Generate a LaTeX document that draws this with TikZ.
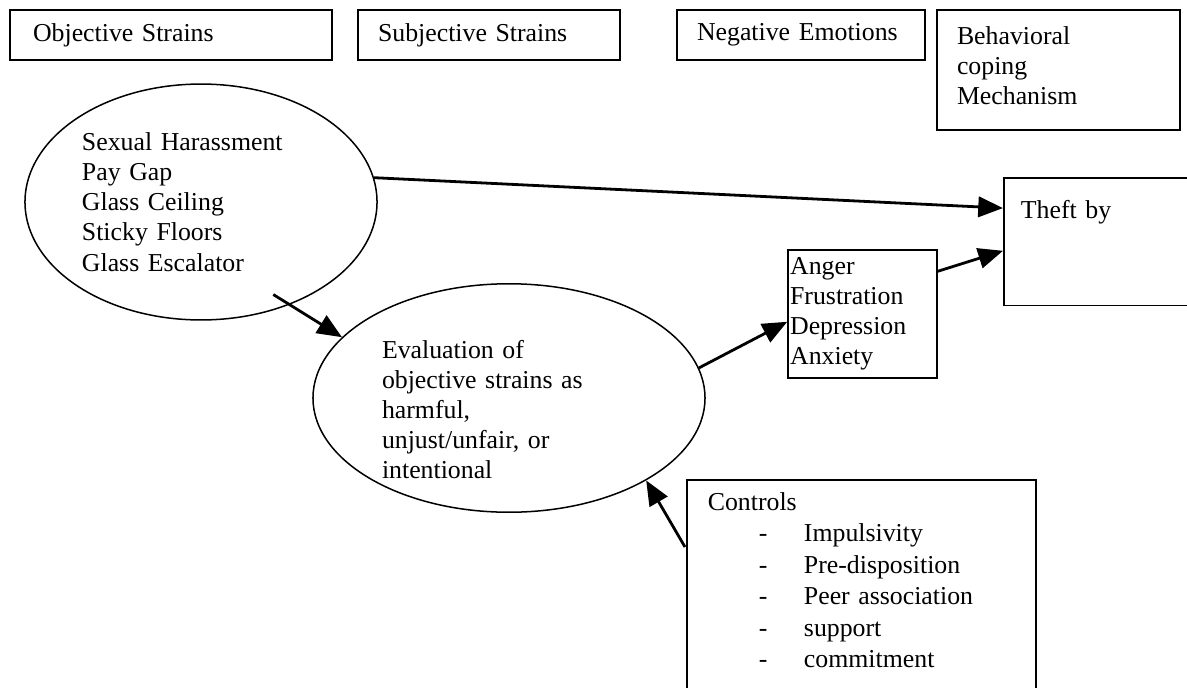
\documentclass[tikz,border=0pt]{standalone}
\usepackage{fontspec}
\setmainfont{Liberation Serif}
\usetikzlibrary{arrows.meta,calc,shapes.geometric}

\begin{document}
\begin{tikzpicture}[
  x=0.465pt, y=-0.465pt, >={Triangle[length=11.5pt,width=9.5pt]},
  every node/.style={font=\fontsize{12}{14}\selectfont},
  hdr/.style={draw, align=left, inner xsep=9.3pt, minimum height=23.3pt, line width=0.7pt},
  box/.style={draw, align=left, line width=0.7pt},
  ell/.style={draw, ellipse, align=left, inner sep=0pt, line width=0.7pt},
  arr/.style={->, line width=1.3pt}]
\useasboundingbox (0,0) rectangle (1187,687);
\clip (0,0) rectangle (1187,687);
% column headings
\node[hdr, minimum width=149.7pt, text width=128.3pt, inner xsep=10.7pt] (objHdr) at (171,35) {Objective Strains};
\node[hdr, minimum width=121.8pt, text width=103.2pt] (subjHdr) at (489,35)    {Subjective Strains};
\node[hdr, minimum width=115.3pt, text width=96.7pt]  (negHdr)  at (801,35)    {Negative Emotions};
\node[hdr, minimum width=113pt, minimum height=55.8pt, text width=94.4pt, text depth=32pt]
      (behHdr) at (1058.5,70) {Behavioral\\coping\\Mechanism};
% strains and their evaluation
\node[ell, minimum width=163.7pt, minimum height=109.7pt, text width=110.7pt] (objEll) at (201,202)
      {Sexual Harassment\\Pay Gap\\Glass Ceiling\\Sticky Floors\\Glass Escalator};
\node[ell, minimum width=182.3pt, minimum height=105.1pt, text width=118.1pt, text height=19pt] (evalEll) at (509,398)
      {Evaluation of\\objective strains as\\harmful,\\unjust/unfair, or\\intentional};
% emotions, outcome, controls
\node[box, minimum width=69.3pt, minimum height=59.5pt, text width=67.3pt, inner xsep=1pt]
      (anger) at (862.5,314) {Anger\\Frustration\\Depression\\Anxiety};
\node[box, anchor=north west, minimum width=107pt, text width=91pt, inner xsep=8pt,
      inner ysep=10pt, text height=9pt, text depth=30.5pt] (theft) at (1003,177) {Theft by};
\node[box, anchor=north west, text width=142.7pt, inner xsep=9.8pt, inner ysep=6pt,
      text depth=90pt, font=\fontsize{12}{14.6}\selectfont] (ctrl) at (686,479)
      {Controls\\
       \hspace*{23.7pt}\makebox[21pt][l]{-}Impulsivity\\
       \hspace*{23.7pt}\makebox[21pt][l]{-}Pre-disposition\\
       \hspace*{23.7pt}\makebox[21pt][l]{-}Peer association\\
       \hspace*{23.7pt}\makebox[21pt][l]{-}support\\
       \hspace*{23.7pt}\makebox[21pt][l]{-}commitment};
% paths
\draw[arr] (objEll.8) -- ($(theft.north west)!0.24!(theft.south west)$);
\draw[arr] ($(objEll.center)!0.88!(objEll.-52)$) -- (evalEll.160);
\draw[arr] (evalEll.9) -- ($(anger.north west)!0.56!(anger.south west)$);
\draw[arr] ($(anger.north east)!0.17!(anger.south east)$) -- ($(theft.north west)!0.57!(theft.south west)$);
\draw[arr] ([shift={(-1,68)}]ctrl.north west) -- (evalEll.-31);
\end{tikzpicture}
\end{document}
